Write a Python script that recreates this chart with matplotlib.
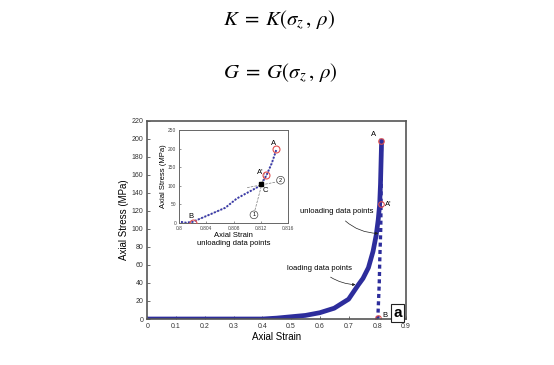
import matplotlib.pyplot as plt

plt.rcParams['font.family'] = ['Liberation Sans', 'DejaVu Sans']
plt.rcParams['mathtext.fontset'] = 'stix'

# loading curve (strain, stress in MPa)
load_strain = [0.0, 0.1, 0.2, 0.3, 0.4, 0.45, 0.5, 0.55, 0.6, 0.65, 0.68, 0.7,
               0.734, 0.75, 0.769, 0.785, 0.796, 0.803, 0.808, 0.811, 0.813, 0.815]
load_stress = [0, 0, 0, 0, 0, 1, 2.5, 4, 7, 12, 18, 22,
               38, 45, 57, 75, 93, 110, 127, 150, 175, 200]

# unloading curve
unload_strain = [0.8003, 0.8010, 0.8020, 0.8043, 0.8068, 0.8085, 0.8099,
                 0.8114, 0.8120, 0.8128, 0.8136, 0.8143]
unload_stress = [3, 1, 3, 21, 41, 66, 80, 95, 102, 127, 160, 198]

# marked points
pt_strain = [0.8143, 0.8128, 0.8020]
pt_stress = [198, 128, 1]
c_strain, c_stress = 0.8120, 104

blue = '#2d2d9c'

fig = plt.figure(figsize=(5.54, 3.65), dpi=100)
fig.text(0.503, 0.945, r'$K\;=\;K(\sigma_z\,,\,\rho)$', ha='center', va='center', fontsize=15)
fig.text(0.505, 0.80, r'$G\;=\;G(\sigma_z\,,\,\rho)$', ha='center', va='center', fontsize=15)

ax = fig.add_axes([0.266, 0.126, 0.467, 0.543])
ax.plot(load_strain, load_stress, color=blue, lw=3.4, solid_capstyle='butt')
ax.plot(unload_strain, unload_stress, color=blue, lw=2.4, ls=(0, (1.2, 1.0)))
ax.plot(pt_strain, pt_stress, 'o', mfc='none', mec='#e05050', ms=4, mew=0.8)
ax.set_xlim(0, 0.9)
ax.set_ylim(0, 220)
ax.set_xticks([0, 0.1, 0.2, 0.3, 0.4, 0.5, 0.6, 0.7, 0.8, 0.9])
ax.set_xticklabels(['0', '0.1', '0.2', '0.3', '0.4', '0.5', '0.6', '0.7', '0.8', '0.9'])
ax.set_yticks(range(0, 221, 20))
ax.tick_params(direction='in', labelsize=5, length=2, width=0.5, pad=3, colors='#333333')
for s in ax.spines.values():
    s.set_color('#555555')
    s.set_linewidth(1.2)
ax.set_xlabel('Axial Strain', fontsize=7, labelpad=1)
ax.set_ylabel('Axial Stress (MPa)', fontsize=7, labelpad=2)

ax.text(0.788, 205, 'A', fontsize=5.5, ha='center', va='center')
ax.text(0.838, 127, "A'", fontsize=5.5, ha='center', va='center')
ax.text(0.826, 4, 'B', fontsize=5.5, ha='center', va='center')
ax.annotate('unloading data points', xy=(0.808, 95), xytext=(0.66, 119),
            fontsize=5.5, ha='center', va='center',
            arrowprops=dict(arrowstyle='-|>', color='#222222', lw=0.5,
                            mutation_scale=4, connectionstyle='arc3,rad=0.25',
                            shrinkA=3, shrinkB=1))
ax.annotate('loading data points', xy=(0.729, 38), xytext=(0.60, 56),
            fontsize=5.5, ha='center', va='center',
            arrowprops=dict(arrowstyle='-|>', color='#222222', lw=0.5,
                            mutation_scale=4, connectionstyle='arc3,rad=0.2',
                            shrinkA=3, shrinkB=1))
ax.text(0.885, 7, 'a', fontsize=11, fontweight='bold', ha='right', va='center',
        bbox=dict(boxstyle='square,pad=0.12', fc='white', ec='#222222', lw=0.8))

# inset
ins = fig.add_axes([0.323, 0.389, 0.197, 0.255])
ins.plot(unload_strain, unload_stress, color='#3a3aa8', lw=1.4, ls=(0, (1.0, 0.8)), zorder=2)
ins.plot(unload_strain, unload_stress, color='#9090b0', lw=0.5, ls='--', zorder=1)
ins.plot(pt_strain, pt_stress, 'o', mfc='none', mec='#e05050', ms=5, mew=0.8, zorder=3)
ins.plot([c_strain], [c_stress], 's', color='black', ms=2.5, zorder=4)
ins.plot([0.8110, 0.8126], [25, 135], color='#777777', lw=0.5, ls='--')
ins.plot([0.8100, 0.8148], [95, 112], color='#777777', lw=0.5, ls='--')
ins.text(0.8110, 22, '1', fontsize=4, ha='center', va='center',
         bbox=dict(boxstyle='circle,pad=0.25', fc='white', ec='#444444', lw=0.5))
ins.text(0.8149, 115, '2', fontsize=4, ha='center', va='center',
         bbox=dict(boxstyle='circle,pad=0.25', fc='white', ec='#444444', lw=0.5))
ins.text(0.8138, 213, 'A', fontsize=5.5, ha='center', va='center')
ins.text(0.8119, 135, "A'", fontsize=5.5, ha='center', va='center')
ins.text(0.8018, 18, 'B', fontsize=5.5, ha='center', va='center')
ins.text(0.8126, 87, 'C', fontsize=5.5, ha='center', va='center')
ins.set_xlim(0.8, 0.816)
ins.set_ylim(0, 250)
ins.set_xticks([0.8, 0.804, 0.808, 0.812, 0.816])
ins.set_xticklabels(['0.8', '0.804', '0.808', '0.812', '0.816'])
ins.set_yticks([0, 50, 100, 150, 200, 250])
ins.tick_params(direction='in', labelsize=3.5, length=1.5, width=0.4, pad=2, colors='#444444')
for s in ins.spines.values():
    s.set_color('#666666')
    s.set_linewidth(0.7)
ins.set_xlabel('Axial Strain\nunloading data points', fontsize=5.5, labelpad=1,
               linespacing=1.1)
ins.set_ylabel('Axial Stress (MPa)', fontsize=5.5, labelpad=1)

fig.savefig('out.png', dpi=100)
